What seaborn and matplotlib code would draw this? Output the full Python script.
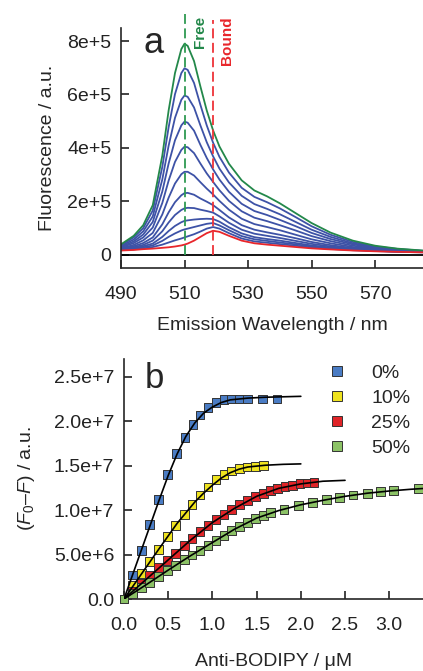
import numpy as np
import pandas as pd
import seaborn as sns
import matplotlib.pyplot as plt

# ---- panel a: emission spectra (fluorescence in units of 1e3 a.u.) ----
wavelength = [490, 494, 497, 500, 503, 505, 507, 509, 510, 511, 513, 515, 517,
              519, 521, 524, 528, 532, 536, 540, 545, 550, 556, 563, 570, 577, 585]
free_spec = [38, 70, 110, 185, 370, 540, 680, 770, 790, 782, 725, 630, 540,
             465, 405, 340, 278, 240, 218, 192, 155, 118, 82, 52, 33, 22, 15]
bound_spec = [15, 17, 20, 22, 25, 27, 30, 34, 37, 41, 52, 66, 80,
              89, 85, 70, 52, 42, 37, 33, 28, 23, 19, 15, 12, 10, 8]
titration_specs = [
    [35, 64, 99, 165, 328, 477, 601, 680, 698, 692, 643, 561, 484,
     419, 366, 307, 250, 216, 196, 173, 140, 106, 74, 47, 30, 21, 14],
    [32, 56, 87, 143, 281, 408, 512, 580, 596, 591, 551, 484, 421,
     368, 322, 270, 220, 189, 171, 151, 122, 93, 66, 42, 28, 19, 13],
    [29, 49, 75, 122, 236, 341, 428, 484, 498, 494, 464, 411, 362,
     319, 281, 235, 190, 163, 148, 130, 106, 81, 58, 38, 25, 17, 12],
    [26, 43, 64, 101, 193, 277, 347, 392, 404, 402, 380, 341, 304,
     272, 241, 201, 162, 138, 125, 110, 90, 69, 50, 33, 22, 16, 11],
    [23, 36, 53, 81, 150, 213, 266, 301, 310, 310, 296, 271, 247,
     225, 201, 168, 134, 114, 103, 91, 74, 57, 42, 28, 20, 14, 11],
    [21, 31, 43, 64, 113, 158, 196, 222, 230, 231, 224, 210, 198,
     185, 167, 139, 110, 93, 83, 74, 61, 47, 35, 24, 17, 13, 10],
    [19, 27, 36, 52, 87, 120, 148, 167, 173, 175, 174, 168, 163,
     157, 143, 119, 93, 78, 70, 62, 51, 40, 30, 22, 16, 12, 9],
    [18, 23, 31, 41, 66, 88, 107, 121, 126, 128, 131, 133, 134,
     133, 123, 102, 79, 65, 58, 52, 43, 34, 26, 19, 14, 11, 9],
    [17, 21, 27, 34, 51, 66, 79, 90, 94, 97, 103, 109, 115,
     118, 109, 91, 69, 57, 51, 45, 38, 30, 24, 18, 14, 11, 9],
    [16, 19, 23, 28, 37, 45, 53, 60, 64, 68, 76, 86, 97,
     103, 97, 80, 60, 49, 44, 39, 33, 26, 21, 16, 13, 10, 8],
]
free_peak = 510
bound_peak = 519

# ---- panel b: titration (signal in units of 1e6 a.u.) ----
series_labels = ["0%", "10%", "25%", "50%"]
conc_0 = [0, 0.10, 0.20, 0.29, 0.39, 0.49, 0.59, 0.69, 0.78, 0.86, 0.95, 1.04,
          1.13, 1.22, 1.30, 1.40, 1.57, 1.73]
sig_0 = [0, 2.7, 5.5, 8.4, 11.2, 14.0, 16.4, 18.2, 19.6, 20.7, 21.5, 22.1,
         22.4, 22.5, 22.5, 22.5, 22.5, 22.5]
conc_10 = [0, 0.10, 0.20, 0.29, 0.39, 0.49, 0.58, 0.68, 0.77, 0.86, 0.95, 1.04,
           1.13, 1.22, 1.31, 1.40, 1.49, 1.58]
sig_10 = [0, 1.5, 2.9, 4.2, 5.6, 7.0, 8.25, 9.5, 10.65, 11.7, 12.6, 13.4,
          14.0, 14.4, 14.7, 14.85, 14.95, 15.0]
conc_25 = [0, 0.10, 0.20, 0.29, 0.39, 0.49, 0.58, 0.68, 0.77, 0.86, 0.95, 1.04,
           1.13, 1.22, 1.31, 1.40, 1.49, 1.58, 1.66, 1.74, 1.82, 1.91, 1.99, 2.07, 2.15]
sig_25 = [0, 0.9, 1.8, 2.6, 3.5, 4.35, 5.15, 6.0, 6.8, 7.55, 8.25, 8.9,
          9.5, 10.1, 10.6, 11.1, 11.55, 11.9, 12.2, 12.45, 12.65, 12.8, 12.95, 13.05, 13.1]
conc_50 = [0, 0.10, 0.20, 0.29, 0.39, 0.49, 0.58, 0.68, 0.77, 0.86, 0.95, 1.04,
           1.13, 1.22, 1.31, 1.40, 1.49, 1.58, 1.66, 1.81, 1.97, 2.13, 2.29, 2.44,
           2.59, 2.75, 2.90, 3.05, 3.33]
sig_50 = [0, 0.65, 1.3, 1.9, 2.55, 3.2, 3.8, 4.4, 4.95, 5.5, 6.05, 6.6,
          7.15, 7.7, 8.2, 8.65, 9.05, 9.4, 9.7, 10.1, 10.5, 10.9, 11.2, 11.45,
          11.7, 11.9, 12.1, 12.2, 12.45]

fit_conc_0 = [0, 0.2, 0.4, 0.5, 0.6, 0.7, 0.8, 0.9, 1.0, 1.1, 1.2, 1.4, 1.6, 1.8, 2.0]
fit_sig_0 = [0, 5.6, 11.2, 13.9, 16.3, 18.3, 19.8, 20.9, 21.6, 22.1, 22.4, 22.6, 22.7, 22.75, 22.8]
fit_conc_10 = [0, 0.2, 0.4, 0.6, 0.8, 0.9, 1.0, 1.1, 1.2, 1.3, 1.4, 1.6, 1.8, 2.0]
fit_sig_10 = [0, 2.85, 5.7, 8.5, 10.9, 11.9, 12.8, 13.6, 14.2, 14.6, 14.85, 15.05, 15.15, 15.2]
fit_conc_25 = [0, 0.25, 0.5, 0.75, 1.0, 1.25, 1.5, 1.75, 2.0, 2.25, 2.5]
fit_sig_25 = [0, 2.2, 4.4, 6.6, 8.6, 10.2, 11.55, 12.45, 12.95, 13.25, 13.35]
fit_conc_50 = [0, 0.25, 0.5, 0.75, 1.0, 1.25, 1.5, 1.75, 2.0, 2.25, 2.5, 2.75, 3.0, 3.25, 3.5]
fit_sig_50 = [0, 1.6, 3.25, 4.85, 6.35, 7.85, 9.1, 9.95, 10.6, 11.1, 11.55, 11.9, 12.15, 12.35, 12.5]

# ---- build tables ----
rows = []
for i, spec in enumerate(titration_specs):
    for w, v in zip(wavelength, spec):
        rows.append((w, v * 1e3, f"t{i}"))
for w, v in zip(wavelength, free_spec):
    rows.append((w, v * 1e3, "free"))
for w, v in zip(wavelength, bound_spec):
    rows.append((w, v * 1e3, "bound"))
spectra = pd.DataFrame(rows, columns=["wl", "fl", "curve"])

spec_colors = {f"t{i}": "#3d52a6" for i in range(len(titration_specs))}
spec_colors["free"] = "#23884a"
spec_colors["bound"] = "#e8262b"

pts = pd.concat([
    pd.DataFrame({"conc": c, "sig": np.array(s) * 1e6, "series": lab})
    for c, s, lab in zip([conc_0, conc_10, conc_25, conc_50],
                         [sig_0, sig_10, sig_25, sig_50], series_labels)
], ignore_index=True)
fits = pd.concat([
    pd.DataFrame({"conc": c, "sig": np.array(s) * 1e6, "series": lab})
    for c, s, lab in zip([fit_conc_0, fit_conc_10, fit_conc_25, fit_conc_50],
                         [fit_sig_0, fit_sig_10, fit_sig_25, fit_sig_50], series_labels)
], ignore_index=True)
point_colors = {"0%": "#4a7cc4", "10%": "#efe31f", "25%": "#e02428", "50%": "#8cc266"}

# ---- style ----
sns.set_style("ticks")
plt.rcParams["font.family"] = ["Liberation Sans", "DejaVu Sans"]
plt.rcParams["mathtext.fontset"] = "custom"
plt.rcParams["mathtext.rm"] = "Liberation Sans"
plt.rcParams["mathtext.it"] = "Liberation Sans:italic"
plt.rcParams["axes.linewidth"] = 1.2

fig = plt.figure(figsize=(4.23, 6.71), dpi=100)
ax1 = fig.add_axes([121 / 423, 1 - 268 / 671, 302 / 423, 240 / 671])
ax2 = fig.add_axes([124 / 423, 1 - 599 / 671, 299 / 423, 240 / 671])

# panel a
sns.lineplot(data=spectra, x="wl", y="fl", hue="curve", palette=spec_colors,
             estimator=None, sort=False, lw=1.3, legend=False, ax=ax1)
ax1.axhline(0, color="black", lw=1.3, zorder=1)
ax1.vlines(free_peak, 0, 9.0e5, colors="#2e9a52", linestyles=(0, (5.5, 2.5)),
           lw=1.3, clip_on=False, zorder=4)
ax1.vlines(bound_peak, 0, 8.8e5, colors="#ee3338", linestyles=(0, (5.5, 2.5)),
           lw=1.3, clip_on=False, zorder=4)
ax1.text(514.9, 7.74e5, "Free", rotation=90, ha="center", va="bottom",
         color="#23884a", fontsize=11, fontweight="bold", clip_on=False)
ax1.text(523.4, 7.1e5, "Bound", rotation=90, ha="center", va="bottom",
         color="#e8262b", fontsize=11, fontweight="bold", clip_on=False)
ax1.set_xlim(490, 585.1)
ax1.set_ylim(-5.06e4, 8.49e5)
ax1.set_xticks([490, 510, 530, 550, 570])
ax1.set_yticks([0, 2e5, 4e5, 6e5, 8e5])
ax1.set_yticklabels(["0", "2e+5", "4e+5", "6e+5", "8e+5"])
ax1.set_xlabel("Emission Wavelength / nm", fontsize=14, labelpad=10)
ax1.set_ylabel("Fluorescence / a.u.", fontsize=14, labelpad=8)
ax1.text(0.073, 0.896, "a", transform=ax1.transAxes, fontsize=26, va="baseline")

# panel b
sns.scatterplot(data=pts, x="conc", y="sig", hue="series", palette=point_colors,
                marker="s", s=40, edgecolor="#333333", linewidth=0.7,
                clip_on=False, zorder=3, ax=ax2)
sns.lineplot(data=fits, x="conc", y="sig", units="series", estimator=None,
             color="black", lw=1.2, legend=False, zorder=4, ax=ax2)
ax2.set_xlim(0, 3.382)
ax2.set_ylim(0, 2.70e7)
ax2.set_xticks([0, 0.5, 1.0, 1.5, 2.0, 2.5, 3.0])
ax2.set_xticklabels(["0.0", "0.5", "1.0", "1.5", "2.0", "2.5", "3.0"])
ax2.set_yticks([0, 5e6, 1e7, 1.5e7, 2e7, 2.5e7])
ax2.set_yticklabels(["0.0", "5.0e+6", "1.0e+7", "1.5e+7", "2.0e+7", "2.5e+7"])
ax2.set_xlabel("Anti-BODIPY / \u03bcM", fontsize=14, labelpad=14)
ax2.set_ylabel("($F_0$\u2013$F$) / a.u.", fontsize=14, labelpad=12)
ax2.text(0.070, 0.879, "b", transform=ax2.transAxes, fontsize=25, va="baseline")
ax2.legend(title=None, frameon=False, loc="upper right", bbox_to_anchor=(0.983, 1.012),
           fontsize=14, handletextpad=0.75, labelspacing=0.38, borderaxespad=0,
           markerscale=1.15)

for ax in (ax1, ax2):
    sns.despine(ax=ax)
    ax.tick_params(direction="in", length=6, width=1.2, labelsize=14, pad=7,
                   colors="#222222")
    ax.tick_params(axis="x", pad=13)

fig.savefig("out.png", dpi=100)
